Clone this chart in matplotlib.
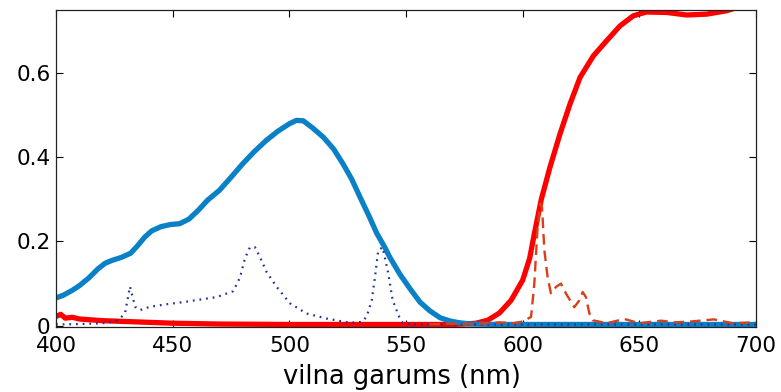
import matplotlib
matplotlib.use("Agg")
import matplotlib.pyplot as plt

plt.rcParams['font.family'] = ['DejaVu Sans']

# Blue filter transmission
blue_wl = [400, 403, 407, 410, 414, 418, 421, 424, 428, 432, 435, 438, 441, 445,
           449, 453, 457, 461, 465, 470, 475, 480, 485, 490, 495, 500, 503, 506,
           510, 514.6, 519, 523, 526.7, 530.3, 534, 537.4, 541, 543, 547.4,
           551.7, 556, 560.3, 564.6, 569, 573, 578, 590, 650, 700]
blue_tr = [0.066, 0.072, 0.084, 0.095, 0.113, 0.135, 0.148, 0.155, 0.162, 0.172,
           0.19, 0.21, 0.225, 0.235, 0.24, 0.242, 0.253, 0.274, 0.298, 0.321,
           0.352, 0.384, 0.413, 0.439, 0.461, 0.479, 0.487, 0.486, 0.469, 0.447,
           0.419, 0.384, 0.348, 0.305, 0.262, 0.22, 0.185, 0.163, 0.122, 0.088,
           0.056, 0.035, 0.019, 0.011, 0.007, 0.004, 0.003, 0.003, 0.003]

# Red filter transmission
red_wl = [400, 402, 404, 407, 410, 415, 420, 430, 440, 450, 470, 500, 570, 575,
          580, 585, 590, 595, 600, 603, 605, 608, 611.7, 616, 620.3, 624.6,
          630.3, 636, 641.7, 647.4, 653, 661.7, 670.3, 678.9, 687.4, 692, 700]
red_tr = [0.022, 0.027, 0.018, 0.02, 0.016, 0.014, 0.012, 0.01, 0.008, 0.006,
          0.004, 0.003, 0.003, 0.004, 0.006, 0.013, 0.03, 0.06, 0.108, 0.16,
          0.218, 0.3, 0.376, 0.455, 0.526, 0.589, 0.64, 0.676, 0.711, 0.735,
          0.744, 0.743, 0.737, 0.739, 0.747, 0.755, 0.765]

# Emission spectrum of the blue light source
dot_wl = [400, 410, 420, 425, 427.4, 429.6, 431.7, 433.9, 436, 440.3, 447.4,
          454.6, 461.7, 468.9, 476, 478.9, 481, 483.1, 485.3, 487.4, 490.3,
          494.6, 500.3, 507.4, 516, 526, 531, 533.1, 535.3, 536.7, 538.1, 540,
          542.4, 544.3, 547.1, 548.6, 555, 600, 700]
dot_em = [0.003, 0.004, 0.006, 0.01, 0.017, 0.03, 0.093, 0.045, 0.037, 0.045,
          0.051, 0.056, 0.062, 0.068, 0.082, 0.115, 0.16, 0.186, 0.186, 0.163,
          0.127, 0.092, 0.053, 0.029, 0.017, 0.007, 0.009, 0.021, 0.06, 0.115,
          0.179, 0.186, 0.124, 0.06, 0.021, 0.006, 0.003, 0.003, 0.003]

# Emission spectrum of the red light source
dash_wl = [560, 570, 580, 590, 596, 600, 603.6, 605, 606.4, 607.6, 608.3, 609.3,
           610.7, 612.1, 614.3, 616.4, 618.6, 622.1, 624.3, 625.7, 627.1, 628.6,
           630, 636, 643.6, 650, 659.4, 665, 672, 682, 690, 700]
dash_em = [0.003, 0.005, 0.004, 0.008, 0.006, 0.01, 0.021, 0.1, 0.234, 0.29,
           0.28, 0.179, 0.115, 0.077, 0.092, 0.1, 0.076, 0.044, 0.06, 0.08,
           0.068, 0.029, 0.013, 0.006, 0.016, 0.006, 0.012, 0.008, 0.01, 0.015,
           0.006, 0.008]

xticks = [400, 450, 500, 550, 600, 650, 700]
yticks = [0, 0.2, 0.4, 0.6]
ytick_labels = ['0', '0.2', '0.4', '0.6']

fig = plt.figure(figsize=(7.81, 3.92), dpi=100)
ax = fig.add_axes([56 / 781, 1 - 327 / 392, 700 / 781, 317.5 / 392])

ax.plot(red_wl, red_tr, color='#ff0000', lw=3.8, solid_capstyle='butt')
ax.plot(blue_wl, blue_tr, color='#0a80c6', lw=3.8, solid_capstyle='butt')
ax.plot(dot_wl, dot_em, color='#22339a', lw=1.6, linestyle=(0, (0.8, 2.2)))
ax.plot(dash_wl, dash_em, color='#d8401a', lw=1.7, linestyle=(0, (4.5, 2.5)))

ax.set_xlim(400, 700)
ax.set_ylim(-0.003, 0.75)
ax.set_xticks(xticks)
ax.set_xticklabels([str(t) for t in xticks])
ax.set_yticks(yticks)
ax.set_yticklabels(ytick_labels)
ax.tick_params(direction='in', length=5, width=0.8, top=True, right=True,
               labelsize=15.5, colors='black')
ax.tick_params(axis='x', pad=6.5)
ax.tick_params(axis='y', pad=4)
for s in ax.spines.values():
    s.set_linewidth(0.9)
    s.set_color('#222222')

ax.set_xlabel('vilna garums (nm)', fontsize=18.5)
ax.xaxis.set_label_coords(345.5 / 700, -0.115)

fig.savefig('out.png', dpi=100)
